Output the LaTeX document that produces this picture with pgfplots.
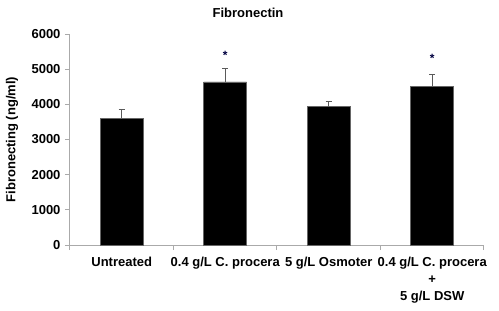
\documentclass[border=0pt]{standalone}
\usepackage{pgfplots}
\pgfplotsset{compat=1.18}
\usepackage{fontspec}
\setmainfont{Liberation Sans}
\definecolor{axgray}{RGB}{170,170,170}
\definecolor{errgray}{RGB}{90,90,90}
\begin{document}
\begin{tikzpicture}[x=1pt,y=1pt]
\useasboundingbox (0,0) rectangle (499,311);
\begin{axis}[
  at={(70pt,66pt)}, anchor=south west,
  scale only axis, width=414pt, height=211pt,
  xmin=0, xmax=4, ymin=0, ymax=6000,
  axis x line*=bottom, axis y line*=left,
  axis line style={axgray, line width=1pt},
  ytick={0,1000,...,6000},
  xtick={0.5,1.5,2.5,3.5},
  xticklabels={Untreated,0.4 g/L C. procera,5 g/L Osmoter,{0.4 g/L C. procera\\+\\5 g/L DSW}},
  xticklabel style={align=center, font=\fontsize{13}{17}\selectfont\bfseries, yshift=-4pt},
  yticklabel style={font=\fontsize{13}{15}\selectfont\bfseries, xshift=-1pt},
  /pgf/number format/assume math mode=true,
  /pgf/number format/1000 sep={},
  major x tick style={draw=none},
  minor xtick={0,1,2,3,4},
  minor x tick style={axgray, line width=1pt},
  minor tick length=5pt,
  major tick length=5pt,
  y tick style={axgray, line width=1pt},
  tick align=outside,
  ylabel={Fibronecting (ng/ml)},
  ylabel style={font=\fontsize{13}{15}\selectfont\bfseries, at={(-58pt,0.5)}, anchor=center},
  title={Fibronectin},
  title style={font=\fontsize{13}{15}\selectfont\bfseries, at={(178pt,1)}, anchor=base, yshift=11pt},
  clip=false,
]
\addplot[ybar, bar width=43pt, fill=black, draw=black!60, line width=0.6pt,
  error bars/.cd, y dir=plus, y explicit,
  error bar style={errgray, line width=1.3pt},
  error mark options={errgray, line width=1.3pt, mark size=3pt, rotate=90}]
  table[x=x, y=y, y error=e] {
x y e
0.5 3610 250
1.5 4640 385
2.5 3930 145
3.5 4520 325
};
\node[font=\fontsize{12}{14}\selectfont\bfseries, text=black!75!blue] at (axis cs:1.5,5400) {*};
\node[font=\fontsize{12}{14}\selectfont\bfseries, text=black!75!blue] at (axis cs:3.5,5300) {*};
\end{axis}
\end{tikzpicture}
\end{document}
